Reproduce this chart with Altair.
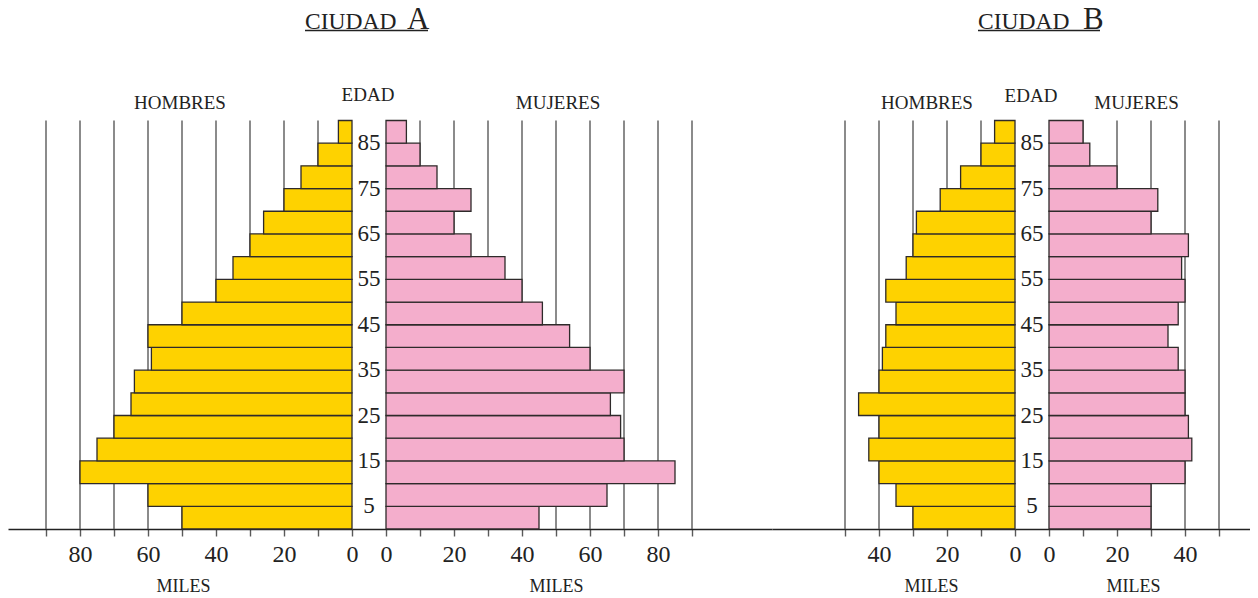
import altair as alt
import pandas as pd

# ---------------- data ----------------
ages = list(range(0, 90, 5))              # lower bound of each 5-year age group
age_labels = [5, 15, 25, 35, 45, 55, 65, 75, 85]

a_hombres = [50, 60, 80, 75, 70, 65, 64, 59, 60, 50, 40, 35, 30, 26, 20, 15, 10, 4]
a_mujeres = [45, 65, 85, 70, 69, 66, 70, 60, 54, 46, 40, 35, 25, 20, 25, 15, 10, 6]
b_hombres = [30, 35, 40, 43, 40, 46, 40, 39, 38, 35, 38, 32, 30, 29, 22, 16, 10, 6]
b_mujeres = [30, 30, 40, 42, 41, 40, 40, 38, 35, 38, 40, 39, 41, 30, 32, 20, 12, 10]

ticks_a = [0, 10, 20, 30, 40, 50, 60, 70, 80, 90]
ticks_b = [0, 10, 20, 30, 40, 50]
grid_a = [10, 20, 30, 40, 50, 60, 70, 80, 90]
grid_b = [10, 20, 30, 40, 50]

# ---------------- style ----------------
FONT = "Liberation Serif"
TXT = "#222222"
YELLOW = "#FED200"
PINK = "#F4AECC"
EDGE = "#2e2a2a"
GRID = "#5a5a5a"
H = 522
YMAX = 115
TY = 22          # title baseline
ys = alt.Scale(domain=[0, YMAX], nice=False, zero=False)


def bars_df(values):
    return pd.DataFrame({"age": ages, "age2": [a + 5 for a in ages],
                         "v": values, "z": [0] * len(ages)})


def label(text, x, y, size, align="center"):
    return alt.Chart(pd.DataFrame({"t": [text]})).mark_text(
        font=FONT, fontSize=size, align=align, baseline="alphabetic", color=TXT
    ).encode(text="t:N", x=alt.value(x), y=alt.value(y))


def underline(x1, x2, y):
    return alt.Chart(pd.DataFrame({"t": [0]})).mark_rule(
        color=TXT, strokeWidth=1.4
    ).encode(x=alt.value(x1), x2=alt.value(x2), y=alt.value(y))


def panel(values, color, width, domain, reverse, ticks, grid, miles_x, extras, with_ages):
    xs = alt.Scale(domain=domain, reverse=reverse, nice=False, zero=False)
    axis = alt.Axis(
        values=ticks,
        labelExpr="datum.value % 20 == 0 ? datum.label : ''",
        grid=False, domain=True, domainColor=TXT, domainWidth=1.5,
        ticks=True, tickColor=GRID, tickWidth=1.4, tickSize=7,
        labelFont=FONT, labelFontSize=24, labelColor=TXT,
        labelBaseline="alphabetic", labelPadding=25,
        labelFlush=False, labelOverlap=False,
        title="MILES", titleFont=FONT, titleFontSize=18, titleFontWeight="normal",
        titleColor=TXT, titleX=miles_x, titleY=62, titleBaseline="alphabetic",
        titleAlign="center",
    )
    gdf = pd.DataFrame({"g": grid, "y0": [0] * len(grid), "y1": [90] * len(grid)})
    gridlines = alt.Chart(gdf).mark_rule(color=GRID, strokeWidth=1.4).encode(
        x=alt.X("g:Q", scale=xs, axis=axis),
        y=alt.Y("y0:Q", scale=ys, axis=None),
        y2="y1:Q",
    )
    bars = alt.Chart(bars_df(values)).mark_bar(
        color=color, stroke=EDGE, strokeWidth=1.3
    ).encode(
        x=alt.X("v:Q", scale=xs, axis=axis),
        x2="z:Q",
        y=alt.Y("age:Q", scale=ys, axis=None),
        y2="age2:Q",
    )
    layers = [gridlines, bars]
    if with_ages:
        adf = pd.DataFrame({"a": age_labels})
        layers.append(
            alt.Chart(adf).mark_text(font=FONT, fontSize=23, color=TXT,
                                     align="center", baseline="middle").encode(
                x=alt.value(17),
                y=alt.Y("a:Q", scale=ys, axis=None),
                text="a:Q",
            )
        )
    layers += extras
    return alt.layer(*layers).properties(width=width, height=H)


p_ah = panel(a_hombres, YELLOW, 344, [0, 344 / 3.4], True, ticks_a, grid_a, 175,
             [label("HOMBRES", 172, 102, 19),
              label("CIUDAD", 297, TY, 23.5, "left"),
              underline(297, 420, TY + 1.5)], False)
p_am = panel(a_mujeres, PINK, 420, [-10, (420 - 34) / 3.4], False, ticks_a, grid_a, 204,
             [label("A", 55, TY, 31, "left"),
              label("EDAD", 16, 94, 19),
              label("MUJERES", 206, 102, 19)], True)
p_bh = panel(b_hombres, YELLOW, 243, [0, 243 / 3.4], True, ticks_b, grid_b, 159,
             [label("HOMBRES", 155, 102, 19),
              label("CIUDAD", 206, TY, 23.5, "left"),
              underline(206, 328, TY + 1.5)], False)
p_bm = panel(b_mujeres, PINK, 235, [-10, (235 - 34) / 3.4], False, ticks_b, grid_b, 118,
             [label("B", 68, TY, 31, "left"),
              label("EDAD", 16, 94.5, 19),
              label("MUJERES", 121.5, 102, 19)], True)

chart = alt.hconcat(p_ah, p_am, p_bh, p_bm, spacing=0, bounds="flush").resolve_scale(
    x="independent", y="independent"
).properties(
    padding={"top": -4, "left": 0, "right": 0, "bottom": 0}
).configure(background="white").configure_view(strokeWidth=0)

chart.save("out.html", embed_options={"renderer": "svg", "actions": False})
